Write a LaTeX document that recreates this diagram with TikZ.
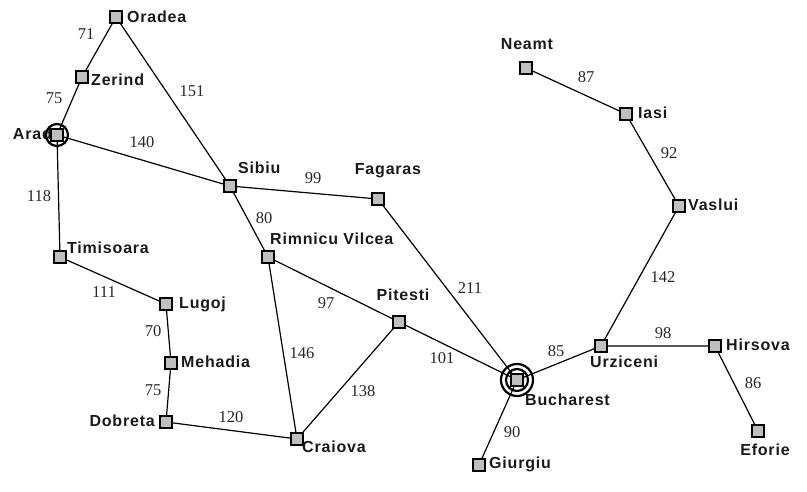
\documentclass[tikz,border=0pt]{standalone}
\usepackage{fontspec}
\newfontfamily\cityfont[LetterSpace=5]{Liberation Sans}
\newfontfamily\numfont{Liberation Serif}
\begin{document}
\begin{tikzpicture}[x=1pt,y=-1pt,
  city/.style={draw=black,fill=black!25,line width=2.2pt,minimum size=11.5pt,inner sep=0pt,rectangle},
  lbl/.style={font=\cityfont\bfseries\fontsize{16}{16}\selectfont,inner sep=0pt,text=black!90},
  dist/.style={font=\numfont\fontsize{16.5}{16.5}\selectfont,inner sep=0pt,text=black!85},
  road/.style={draw=black,line width=1.2pt},
  ring/.style={draw=black,line width=2.2pt}]
\useasboundingbox (0,0) rectangle (807,491);
% cities
\node[city] (oradea) at (116,17) {};
\node[city] (zerind) at (82,77) {};
\node[city] (arad) at (57,135) {};
\node[city] (timisoara) at (60,257) {};
\node[city] (lugoj) at (166,304) {};
\node[city] (mehadia) at (171,363) {};
\node[city] (dobreta) at (166,422) {};
\node[city] (craiova) at (297,439) {};
\node[city] (sibiu) at (230,186) {};
\node[city] (rimnicu) at (268,257) {};
\node[city] (fagaras) at (378,199) {};
\node[city] (pitesti) at (399,322) {};
\node[city] (bucharest) at (517,380) {};
\node[city] (giurgiu) at (479,465) {};
\node[city] (urziceni) at (601,346) {};
\node[city] (hirsova) at (715,346) {};
\node[city] (eforie) at (758,431) {};
\node[city] (vaslui) at (679,206) {};
\node[city] (iasi) at (626,114) {};
\node[city] (neamt) at (526,68) {};
% roads
\draw[road] (oradea.center) -- (zerind.center) -- (arad.center) -- (timisoara.center) -- (lugoj.center) -- (mehadia.center) -- (dobreta.center) -- (craiova.center);
\draw[road] (oradea.center) -- (sibiu.center);
\draw[road] (arad.center) -- (sibiu.center) -- (fagaras.center) -- (bucharest.center);
\draw[road] (sibiu.center) -- (rimnicu.center) -- (pitesti.center) -- (bucharest.center);
\draw[road] (rimnicu.center) -- (craiova.center) -- (pitesti.center);
\draw[road] (giurgiu.center) -- (bucharest.center) -- (urziceni.center) -- (hirsova.center) -- (eforie.center);
\draw[road] (urziceni.center) -- (vaslui.center) -- (iasi.center) -- (neamt.center);
% redraw city squares on top of the roads
\foreach \c in {oradea,zerind,arad,timisoara,lugoj,mehadia,dobreta,craiova,sibiu,rimnicu,fagaras,pitesti,bucharest,giurgiu,urziceni,hirsova,eforie,vaslui,iasi,neamt}
  \node[city] at (\c) {};
% rings
\node[lbl,anchor=east] (laradtxt) at (52,134) {Arad};
\node[ring,circle,minimum size=22pt,inner sep=0pt] (aradring) at (arad) {};
\node[ring,circle,minimum size=22pt,inner sep=0pt] (buchring1) at (bucharest) {};
\node[ring,circle,minimum size=32pt,inner sep=0pt] (buchring2) at (bucharest) {};
% city labels
\node[lbl,anchor=west] (loradea) at (127,17) {Oradea};
\node[lbl,anchor=west] (lzerind) at (91,80) {Zerind};
\node[lbl,anchor=west] (lsibiu) at (238,168) {Sibiu};
\node[lbl] (lfagaras) at (388,171) {Fagaras};
\node[lbl,anchor=west] (lrimnicu) at (270,239) {Rimnicu Vilcea};
\node[lbl] (lpitesti) at (403,295) {Pitesti};
\node[lbl,anchor=west] (ltimisoara) at (67,248) {Timisoara};
\node[lbl,anchor=west] (llugoj) at (179,304) {Lugoj};
\node[lbl,anchor=west] (lmehadia) at (181,362) {Mehadia};
\node[lbl,anchor=east] (ldobreta) at (155,421) {Dobreta};
\node[lbl,anchor=west] (lcraiova) at (302,447) {Craiova};
\node[lbl,anchor=west] (lbucharest) at (525,400) {Bucharest};
\node[lbl,anchor=west] (lgiurgiu) at (489,464) {Giurgiu};
\node[lbl,anchor=west] (lurziceni) at (590,362) {Urziceni};
\node[lbl,anchor=west] (lhirsova) at (726,345) {Hirsova};
\node[lbl] (leforie) at (765,450) {Eforie};
\node[lbl] (lneamt) at (527,44) {Neamt};
\node[lbl,anchor=west] (liasi) at (638,113) {Iasi};
\node[lbl,anchor=west] (lvaslui) at (688,205) {Vaslui};
% distances
\node[dist] (d71) at (86,34) {71};
\node[dist] (d75a) at (54,98) {75};
\node[dist] (d151) at (192,91) {151};
\node[dist] (d140) at (142,142) {140};
\node[dist] (d118) at (39,196) {118};
\node[dist] (d99) at (313,178) {99};
\node[dist] (d80) at (264,218) {80};
\node[dist] (d97) at (326,303) {97};
\node[dist] (d111) at (104,292) {111};
\node[dist] (d70) at (153,331) {70};
\node[dist] (d75b) at (153,390) {75};
\node[dist] (d120) at (231,417) {120};
\node[dist] (d146) at (302,353) {146};
\node[dist] (d138) at (363,391) {138};
\node[dist] (d101) at (442,358) {101};
\node[dist] (d211) at (470,288) {211};
\node[dist] (d85) at (556,351) {85};
\node[dist] (d90) at (512,432) {90};
\node[dist] (d87) at (586,77) {87};
\node[dist] (d92) at (669,153) {92};
\node[dist] (d142) at (663,277) {142};
\node[dist] (d98) at (663,333) {98};
\node[dist] (d86) at (753,383) {86};
\end{tikzpicture}
\end{document}
